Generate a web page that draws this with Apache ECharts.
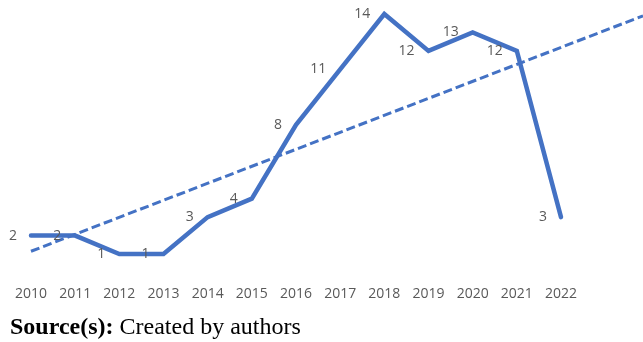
<!DOCTYPE html>
<html>
<head>
<meta charset="utf-8">
<script src="https://cdn.jsdelivr.net/npm/echarts@6/dist/echarts.min.js"></script>
<style>html,body{margin:0;padding:0;background:#fff;}#c{width:643px;height:342px;}</style>
</head>
<body>
<div id="c"></div>
<script>
const years = ['2010','2011','2012','2013','2014','2015','2016','2017','2018','2019','2020','2021','2022'];
const counts = [2, 2, 1, 1, 3, 4, 8, 11, 14, 12, 13, 12, 3];
// dashed linear trend line, endpoints (x in category index units)
const trendX = [0, 14];
const trendY = [1.15, 13.9];
const sourceBold = 'Source(s):';
const sourceText = ' Created by authors';

const chart = echarts.init(document.getElementById('c'), null, {renderer: 'canvas'});
const blue = '#4472C4';
const grey = '#595959';
const font = '"Open Sans", "Noto Sans", sans-serif';
const step = (643 - 31 - 82) / 12;
chart.setOption({
  animation: false,
  grid: [
    {left: 31, right: 82, top: 14, bottom: 69.5},
    {left: 31, width: step * 14, top: 14, bottom: 69.5}
  ],
  xAxis: [{
    type: 'category', data: years, boundaryGap: false, gridIndex: 0,
    axisLine: {show: false}, axisTick: {show: false}, splitLine: {show: false},
    axisLabel: {color: grey, fontSize: 14, fontFamily: font, margin: 15, interval: 0}
  }, {
    type: 'value', min: 0, max: 14, show: false, gridIndex: 1
  }],
  yAxis: [
    {type: 'value', min: 0, max: 14, show: false, gridIndex: 0},
    {type: 'value', min: 0, max: 14, show: false, gridIndex: 1}
  ],
  series: [{
    type: 'line',
    xAxisIndex: 1, yAxisIndex: 1,
    data: trendX.map((x, i) => [x, trendY[i]]),
    symbol: 'none', clip: false, silent: true,
    lineStyle: {color: blue, width: 3, type: [9, 4]}
  }, {
    type: 'line',
    data: counts,
    symbol: 'circle', symbolSize: 0, clip: false,
    lineStyle: {color: blue, width: 4.5, cap: 'round', join: 'miter'},
    itemStyle: {color: blue},
    label: {show: true, position: 'left', distance: 14, color: grey, fontSize: 14, fontFamily: font}
  }],
  graphic: [{
    type: 'text', left: 10, top: 316,
    style: {
      text: '{b|' + sourceBold + '}{r|' + sourceText + '}',
      rich: {
        b: {fontFamily: '"Liberation Serif", "Times New Roman", serif', fontWeight: 'bold', fontSize: 24, fill: '#000'},
        r: {fontFamily: '"Liberation Serif", "Times New Roman", serif', fontSize: 24, fill: '#000'}
      }
    }
  }]
});
</script>
</body>
</html>
